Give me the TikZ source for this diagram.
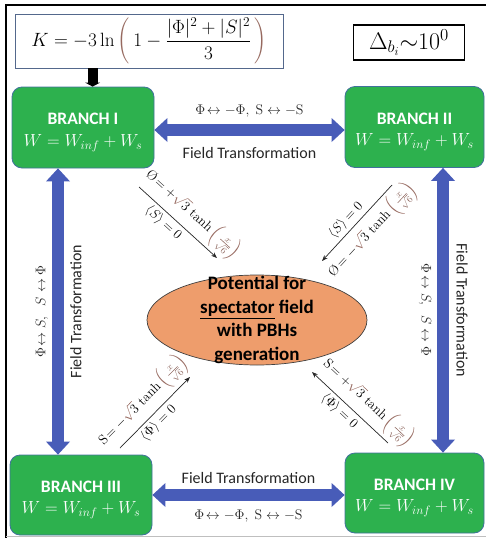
\RequirePackage{fix-cm}
\documentclass[tikz,border=0pt]{standalone}
\usepackage{amsmath}
\usepackage{graphicx}
\usepackage{fontspec}
\setsansfont{Carlito}
\usetikzlibrary{shapes.geometric,arrows.meta,calc}

\definecolor{boxgreen}{RGB}{45,177,78}
\definecolor{boxedge}{RGB}{65,113,156}
\definecolor{arrowblue}{RGB}{72,92,184}
\definecolor{potorange}{RGB}{238,157,108}
\definecolor{parbrown}{RGB}{150,105,95}
\definecolor{kedge}{RGB}{84,104,140}

% a delimiter of the height of #2, drawn in brown
\newcommand\browndelim[2]{{\color{parbrown}\left#1\vphantom{#2}\right.}}
% a tall thin brown bracket of total height 46pt
\newcommand\tallbrown[1]{{\color{parbrown}\raisebox{1.5pt}{\resizebox*{!}{46pt}{$\Bigg#1$}}}}
% sqrt(3) tanh(x/sqrt6) with the brown radical and brackets
\newcommand\tanhpart{{\color{parbrown}\sqrt{\color{black}3}}\,\tanh\browndelim({\frac{x}{\sqrt6}}{\color{parbrown!80!gray}\frac{x}{\sqrt{6}}}\browndelim){\frac{x}{\sqrt6}}}
% the superpotential shared by all branches
\newcommand\wsum{$W = W_{inf} + W_s$}

\begin{document}
\begin{tikzpicture}[x=1pt,y=-1pt,
  branch/.style={rectangle, rounded corners=10pt, fill=boxgreen, draw=boxedge,
    line width=0.8pt, minimum width=142pt, minimum height=81pt, inner sep=0pt},
  branchtext/.style={text=white, align=center, inner sep=0pt, yshift=-5pt,
    font=\sffamily\bfseries\fontsize{17.5}{21.5}\selectfont},
  blockarrow/.style={draw=arrowblue, line width=12pt,
    {Triangle[width=24pt,length=13pt,line width=0pt]}-{Triangle[width=24pt,length=13pt,line width=0pt]}},
  thinarrow/.style={draw=black!85, line width=0.7pt, -{Stealth[length=6pt,width=4.5pt]}},
  diaglabel/.style={font=\fontsize{13.5}{16}\selectfont, sloped, inner sep=3pt},
  swaplabel/.style={font=\fontsize{14}{17}\selectfont, text=black!85, inner sep=0pt},
  ftlabel/.style={font=\sffamily\fontsize{16}{19}\selectfont, text=black!85, inner sep=0pt}
]
\useasboundingbox (0,0) rectangle (485,538);

% outer frame
\draw[line width=2.5pt] (6,538) -- (6,5) -- (486,5);
\draw[black!25, line width=0.6pt] (6,536) -- (486,536);

% Kaehler potential and tuning parameter
\node[draw=kedge, line width=0.8pt, minimum width=268pt, minimum height=54pt, inner sep=0pt,
      font=\fontsize{19.2}{22}\selectfont] (K) at (149,41)
  {$K = -3\ln\tallbrown(\,1 - \dfrac{|\Phi|^2+|S|^2}{3}\,\tallbrown)$};
\node[draw=black, line width=1.3pt, minimum width=111pt, minimum height=35pt, inner sep=0pt,
      font=\fontsize{24}{28}\selectfont] (D) at (409,42.5)
  {$\Delta_{b_i}{\sim}10^0$};

% the four branches
\node[branch, label={[branchtext]center:BRANCH I\\{\mdseries\wsum}}] (b1) at (83,127.5) {};
\node[branch, minimum width=139pt, label={[branchtext]center:BRANCH II\\{\mdseries\wsum}}] (b2) at (414.5,127) {};
\node[branch, minimum height=80pt, label={[branchtext]center:BRANCH III\\{\mdseries\wsum}}] (b3) at (81,495) {};
\node[branch, minimum width=139pt, minimum height=80pt, label={[branchtext]center:BRANCH IV\\{\mdseries\wsum}}] (b4) at (414.5,493) {};

% K feeds branch I
\draw[line width=10pt, -{Triangle[width=15pt,length=4pt,line width=0pt]}]
  ([xshift=78pt]K.south west) -- ([xshift=81pt]b1.north west);

% spectator potential
\node[ellipse, fill=potorange, draw=black!75, line width=0.7pt,
      minimum width=220pt, minimum height=90pt, inner sep=0pt] (pot) at (257,320) {};
\node[font=\sffamily\bfseries\fontsize{19}{23.5}\selectfont, align=center, inner sep=0pt] (pottext)
  at (pot.center) {Potential for\\\underline{spectator} field\\with PBHs\\generation};

% field transformations between branches
\draw[blockarrow] ([yshift=-2.5pt]b1.east) -- ([yshift=-3pt]b2.west)
  node[midway, swaplabel, above=7pt] (t12a) {$\Phi\!\leftrightarrow -\Phi,\; \mathrm{S} \leftrightarrow -\mathrm{S}$}
  node[midway, ftlabel, below=11pt] (t12b) {Field Transformation};
\draw[blockarrow] (b3.east) -- (b3.east -| b4.west)
  node[midway, ftlabel, above=5pt] (t34a) {Field Transformation}
  node[midway, swaplabel, below=9pt] (t34b) {$\Phi\!\leftrightarrow -\Phi,\; \mathrm{S} \leftrightarrow -\mathrm{S}$};

\coordinate (lx) at (58,0);
\coordinate (rx) at (443,0);
\draw[blockarrow] (b1.south -| lx) -- (b3.north -| lx)
  node[midway, swaplabel, xshift=-16pt, rotate=90] (t13a) {$\Phi\!\leftrightarrow S,\;\; S \leftrightarrow \Phi$}
  node[midway, ftlabel, xshift=18pt, rotate=90] (t13b) {Field Transformation};
\draw[blockarrow] (b2.south -| rx) -- (b4.north -| rx)
  node[midway, swaplabel, xshift=-18pt, rotate=-90] (t24a) {$\Phi\!\leftrightarrow S,\;\; S \leftrightarrow \Phi$}
  node[midway, ftlabel, xshift=19pt, rotate=-90] (t24b) {Field Transformation};

% vacuum directions leading to the spectator potential
\coordinate (d1s) at (139,187); \coordinate (d1e) at (217,258);
\coordinate (d2s) at (392,185); \coordinate (d2e) at (322,261);
\coordinate (d3s) at (120,448); \coordinate (d3e) at (190,377);
\coordinate (d4s) at (388,443); \coordinate (d4e) at (312,372);

\draw[thinarrow] (d1s) -- (d1e)
  node[diaglabel, pos=0.55, above] (l1a) {$\mbox{\O}\!= +\tanhpart$}
  node[diaglabel, pos=0.4, below] (l1b) {$\langle S\rangle = 0$};
\draw[thinarrow] (d2s) -- (d2e)
  node[diaglabel, pos=0.55, above] (l2a) {$\langle S\rangle = 0$}
  node[diaglabel, pos=0.45, below] (l2b) {$\mbox{\O}\!= -\tanhpart$};
\draw[thinarrow] (d3s) -- (d3e)
  node[diaglabel, pos=0.5, above] (l3a) {$\mathrm{S}\!= -\tanhpart$}
  node[diaglabel, pos=0.45, below] (l3b) {$\langle \Phi\rangle = 0$};
\draw[thinarrow] (d4s) -- (d4e)
  node[diaglabel, pos=0.4, above] (l4a) {$\mathrm{S}\!= +\tanhpart$}
  node[diaglabel, pos=0.55, below] (l4b) {$\langle \Phi\rangle = 0$};
\end{tikzpicture}
\end{document}
